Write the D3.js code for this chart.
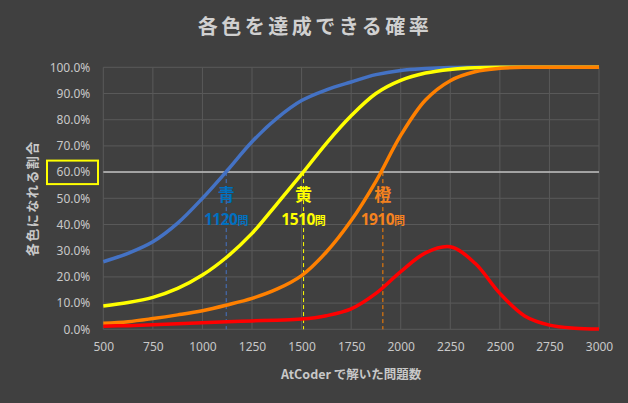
<!DOCTYPE html>
<html><head><meta charset="utf-8">
<script src="https://cdn.jsdelivr.net/npm/d3@7"></script>
<style>
html,body{margin:0;padding:0;background:#404040;}
svg{display:block;font-family:"Noto Sans CJK JP","Noto Sans",sans-serif;}
</style></head>
<body><svg id="c" width="628" height="403"></svg>
<script>
const problems = [500,625,750,875,1000,1125,1250,1375,1500,1625,1750,1875,2000,2125,2250,2375,2500,2625,2750,2875,3000];
const blueRate   = [25.8,29.0,33.4,40.5,50.0,60.6,71.6,80.5,87.3,91.4,94.4,97.2,98.8,99.5,99.9,100,100,100,100,100,100];
const yellowRate = [8.9,10.2,12.2,15.6,20.7,27.7,36.6,47.8,59.2,71.0,81.5,90.0,95.0,97.8,99.2,99.8,100,100,100,100,100];
const orangeRate = [2.3,2.9,4.1,5.5,7.1,9.3,11.8,15.3,20.5,29.5,41.5,56.5,74.0,87.5,94.9,98.3,99.6,100,100,100,100];
const redRate    = [1.2,1.4,1.7,2.1,2.5,2.9,3.2,3.5,3.9,5.2,7.8,13.7,22.0,29.2,31.5,25.2,13.7,5.1,1.6,0.4,0.1];
const xTicks = [500,750,1000,1250,1500,1750,2000,2250,2500,2750,3000];
const yTicks = [0,10,20,30,40,50,60,70,80,90,100];
const markers = [
  {name:"青", count:1120, color:"#0070C0", dash:"#4472C4"},
  {name:"黄", count:1510, color:"#FFFF00", dash:"#FFFF00"},
  {name:"橙", count:1910, color:"#F5821F", dash:"#FF8000"}
];
const threshold = 60;
const series = [
  {values:blueRate, color:"#4472C4"},
  {values:yellowRate, color:"#FFFF00"},
  {values:orangeRate, color:"#FF8000"},
  {values:redRate, color:"#FF0000"}
];

const svg = d3.select("#c");
const x = d3.scaleLinear().domain([500,3000]).range([103.3,599]);
const y = d3.scaleLinear().domain([0,100]).range([329.3,67.3]);

svg.append("rect").attr("width",628).attr("height",403).attr("fill","#404040");

// title
svg.append("text").attr("x",315).attr("y",34).attr("text-anchor","middle")
  .attr("fill","#d0d0d0").attr("font-size",20).attr("font-weight","bold")
  .attr("letter-spacing","3.5px").text("各色を達成できる確率");

// gridlines
const grid = svg.append("g");
grid.selectAll("line.h").data(yTicks).join("line")
  .attr("x1",x(500)).attr("x2",x(3000)).attr("y1",d=>y(d)).attr("y2",d=>y(d))
  .attr("stroke","#595959").attr("stroke-width",1);
grid.selectAll("line.v").data(xTicks).join("line").attr("class","v")
  .attr("x1",d=>x(d)).attr("x2",d=>x(d)).attr("y1",y(0)).attr("y2",y(100))
  .attr("stroke","#595959").attr("stroke-width",1);

// axes
const yAxis = d3.axisLeft(y).tickValues(yTicks).tickSize(0).tickPadding(13)
  .tickFormat(d=>d.toFixed(1)+"%");
const ya = svg.append("g").attr("transform",`translate(${x(500)},0)`).call(yAxis);
ya.select(".domain").remove();
ya.selectAll("text").attr("fill","#c8c8c8").attr("font-size",12)
  .attr("font-family","'Noto Sans','DejaVu Sans',sans-serif");

const xAxis = d3.axisBottom(x).tickValues(xTicks).tickSize(0).tickPadding(13).tickFormat(d=>d);
const xa = svg.append("g").attr("transform",`translate(0,${y(0)})`).call(xAxis);
xa.select(".domain").remove();
xa.selectAll("text").attr("fill","#c8c8c8").attr("font-size",12)
  .attr("font-family","'Noto Sans','DejaVu Sans',sans-serif");

// axis titles
svg.append("text").attr("x",x(1750)).attr("y",379).attr("text-anchor","middle")
  .attr("fill","#c8c8c8").attr("font-size",12.5).attr("font-weight","bold")
  .text("AtCoder で解いた問題数");
svg.append("text").attr("transform",`translate(37,${y(50)}) rotate(-90)`)
  .attr("text-anchor","middle").attr("fill","#c8c8c8").attr("font-size",13)
  .attr("font-weight","bold").attr("letter-spacing","1.5px").text("各色になれる割合");

// highlight 60% label
svg.append("rect").attr("x",47).attr("y",y(threshold)-11.5).attr("width",51).attr("height",23.5)
  .attr("fill","none").attr("stroke","#FFFF00").attr("stroke-width",2);

// threshold line
svg.append("line").attr("x1",x(500)).attr("x2",x(3000)).attr("y1",y(threshold)).attr("y2",y(threshold))
  .attr("stroke","#c0c0c0").attr("stroke-width",1.5);

// dashed markers
svg.selectAll("line.m").data(markers).join("line")
  .attr("x1",d=>x(d.count)).attr("x2",d=>x(d.count)).attr("y1",y(threshold)).attr("y2",y(0))
  .attr("stroke",d=>d.dash).attr("stroke-width",1).attr("stroke-dasharray","4,3");

// curves
const line = d3.line().curve(d3.curveCatmullRom.alpha(0.5));
series.forEach(s=>{
  svg.append("path").attr("d",line(problems.map((p,i)=>[x(p),y(s.values[i])])))
    .attr("fill","none").attr("stroke",s.color).attr("stroke-width",3.5)
    .attr("stroke-linejoin","round").attr("stroke-linecap","butt");
});

// annotations
markers.forEach(m=>{
  svg.append("text").attr("x",x(m.count)).attr("y",201).attr("text-anchor","middle")
    .attr("fill",m.color).attr("font-size",17).attr("font-weight","bold").text(m.name);
  const t = svg.append("text").attr("x",x(m.count)).attr("y",225).attr("text-anchor","middle")
    .attr("fill",m.color).attr("font-weight","bold");
  t.append("tspan").attr("font-size",15.5).attr("letter-spacing","-0.5px")
    .attr("font-family","'Noto Sans','DejaVu Sans',sans-serif").text(m.count);
  t.append("tspan").attr("font-size",11).text("問");
});
</script></body></html>
